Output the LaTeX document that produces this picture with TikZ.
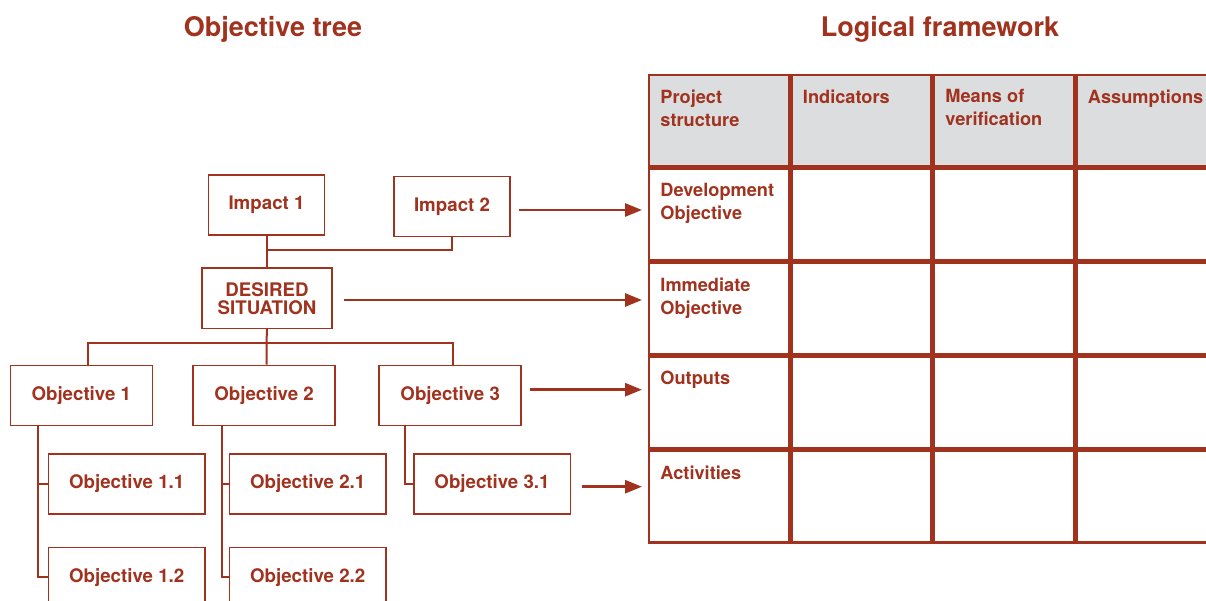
\documentclass[tikz,border=0pt]{standalone}
\usepackage{fontspec}
\setmainfont{TeX Gyre Heros}
\usetikzlibrary{matrix,arrows.meta}
\definecolor{lfred}{RGB}{160,50,30}
\definecolor{lfgray}{RGB}{220,221,223}
\tikzstyle{goal} = [draw=lfred, line width=1.6pt, minimum height=60pt, inner sep=0pt, text=lfred, align=center, font=\bfseries\fontsize{18.7}{18}\selectfont]
\tikzstyle{link} = [draw=lfred, line width=2pt]
\tikzstyle{flow} = [draw=lfred, line width=2.7pt, -{Triangle[length=17pt,width=13pt]}, shorten >=7pt]
\tikzstyle{bcell} = [draw=lfred, line width=2.6pt, minimum width=139.9pt, minimum height=91.4pt, inner sep=0pt, outer sep=0pt, text=lfred, font=\bfseries\fontsize{18.2}{23}\selectfont]
\tikzstyle{hcell} = [bcell, fill=lfgray]
\tikzstyle{title} = [text=lfred, anchor=base, font=\bfseries\fontsize{27}{30}\selectfont]
\newcommand{\cellbox}[1]{\parbox[c][62.4pt][t]{117pt}{\raggedright #1}}
\newcommand{\hc}[1]{\node [hcell] {\cellbox{#1}};}
\newcommand{\bc}[2]{\node [bcell] (#1) {\cellbox{#2}};}
\newcommand{\ec}{\node [bcell] {};}

\begin{document}
\begin{tikzpicture}[x=1pt, y=-1pt]
			\clip (0,0) rectangle (1206,601);
			\node [title] (treetitle) at (273,36.7) {Objective tree};
			\node [title] (lftitle) at (940,36.7) {Logical framework};
			\matrix (lf) at (647.7,73.7) [anchor=north west, inner sep=0pt, outer sep=0pt,
				column sep=0pt, row sep=0pt, ampersand replacement=\&] {
				\hc{Project\\structure} \& \hc{Indicators} \& \hc{Means of\\verification} \& \hc{Assumptions} \\
				\bc{dev}{Development\\Objective} \& \ec \& \ec \& \ec \\
				\bc{imm}{Immediate\\Objective} \& \ec \& \ec \& \ec \\
				\bc{out}{Outputs} \& \ec \& \ec \& \ec \\
				\bc{act}{Activities} \& \ec \& \ec \& \ec \\
			};
			\node [goal, minimum width=116pt] (imp1) at (266.5,205) {Impact 1};
			\node [goal, minimum width=115.6pt] (imp2) at (452,206.5) {Impact 2};
			\node [goal, minimum width=130.5pt] (des) at (267,298.3) {DESIRED\\SITUATION};
			\node [goal, minimum width=142pt] (o1) at (81.3,395.3) {Objective 1};
			\node [goal, minimum width=142pt] (o2) at (264.1,395.3) {Objective 2};
			\node [goal, minimum width=142pt] (o3) at (450.2,395.3) {Objective 3};
			\node [goal, minimum width=156.6pt] (o11) at (126.7,483.7) {Objective 1.1};
			\node [goal, minimum width=156.6pt] (o12) at (126.7,577.3) {Objective 1.2};
			\node [goal, minimum width=156.6pt] (o21) at (307.7,483.7) {Objective 2.1};
			\node [goal, minimum width=156.6pt] (o22) at (307.7,577.3) {Objective 2.2};
			\node [goal, minimum width=156.6pt] (o31) at (492,483.7) {Objective 3.1};
			\coordinate (j1) at (266.5,250.3);
			\coordinate (j2) at (266.5,342.7);
			\draw [link] (imp1.south) -- (imp1.south |- des.north);
			\draw [link] (imp2.south) |- (j1);
			\draw [link] (des.south) -- (j2) -- (j2 |- o2.north);
			\draw [link] ([xshift=7pt]o1.north) |- (j2) -| ([xshift=2.5pt]o3.north);
			\draw [link] ([xshift=-43.4pt]o1.south) |- (o12.west);
			\draw [link] ([xshift=-43.4pt]o1.south |- o11.west) -- (o11.west);
			\draw [link] ([xshift=-42.3pt]o2.south) |- (o22.west);
			\draw [link] ([xshift=-42.3pt]o2.south |- o21.west) -- (o21.west);
			\draw [link] ([xshift=-44.9pt]o3.south) |- (o31.west);
			\draw [flow] ([xshift=8pt, yshift=-3.5pt]imp2.east) -- ([yshift=-3.5pt]imp2.east -| dev.west);
			\draw [flow] ([xshift=11pt, yshift=-1.7pt]des.east) -- ([yshift=-1.7pt]des.east -| imm.west);
			\draw [flow] ([xshift=8pt, yshift=5.6pt]o3.east) -- ([yshift=5.6pt]o3.east -| out.west);
			\draw [flow] ([xshift=10.5pt, yshift=-3pt]o31.east) -- ([yshift=-3pt]o31.east -| act.west);
		\end{tikzpicture}
\end{document}
